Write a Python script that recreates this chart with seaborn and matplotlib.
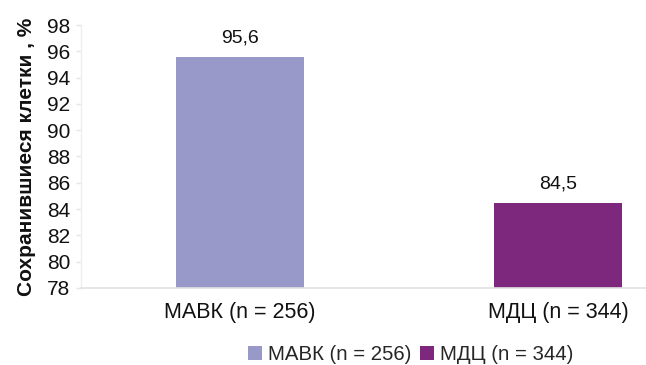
import matplotlib
matplotlib.use("Agg")
import matplotlib.pyplot as plt
import seaborn as sns
import pandas as pd
from matplotlib.patches import Patch

# Data
groups = ["МАВК (n = 256)", "МДЦ (n = 344)"]
values = [95.6, 84.5]
value_labels = ["95,6", "84,5"]
colors = ["#9898C9", "#7D287D"]
y_ticks = [78, 80, 82, 84, 86, 88, 90, 92, 94, 96, 98]

sns.set_theme(style="white")
plt.rcParams["font.family"] = ["Liberation Sans", "DejaVu Sans"]

df = pd.DataFrame({"group": groups, "value": values})

fig = plt.figure(figsize=(6.46, 3.65), dpi=100)
ax = fig.add_axes([0.1254, 0.2110, 0.9845, 0.7205])

sns.barplot(data=df, x="group", y="value", hue="group", palette=colors,
            width=0.405, ax=ax, legend=False, saturation=1,
            edgecolor="none")

ax.set_ylim(78, 98)
ax.set_xlim(-0.5, 1.5)
ax.set_yticks(y_ticks)
ax.set_yticklabels([str(t) for t in y_ticks], fontsize=15, color="#111111")
ax.set_xticks([0.5], minor=True)
ax.set_xticklabels(groups, fontsize=15.5, color="#111111")
ax.tick_params(axis="x", which="major", length=0, pad=10)
ax.tick_params(axis="x", which="minor", length=4, color="#e6e6e6", width=1)
ax.tick_params(axis="y", length=3.6, color="#e6e6e6", width=1, pad=4, left=True)

for side in ["top", "right"]:
    ax.spines[side].set_visible(False)
ax.spines["left"].set_color("#eeeeee")
ax.spines["bottom"].set_color("#e2e2e2")
ax.spines["left"].set_linewidth(1)
ax.spines["bottom"].set_linewidth(1.2)

ax.set_xlabel("")
ax.set_ylabel("Сохранившиеся клетки , %", fontsize=15, fontweight="bold",
              color="#111111", labelpad=8)

for i, (v, lab) in enumerate(zip(values, value_labels)):
    ax.annotate(lab, xy=(i, v), xytext=(0, 7), textcoords="offset points",
                ha="center", va="bottom", fontsize=14, color="#111111")

handles = [Patch(facecolor=c, edgecolor="none") for c in colors]
fig.legend(handles, groups, loc="center", bbox_to_anchor=(0.636, 0.028),
           ncol=2, frameon=False, fontsize=14.7, handlelength=0.7,
           handleheight=0.7, handletextpad=0.3, columnspacing=0.4,
           borderpad=0)

fig.savefig("out.png", dpi=100)
